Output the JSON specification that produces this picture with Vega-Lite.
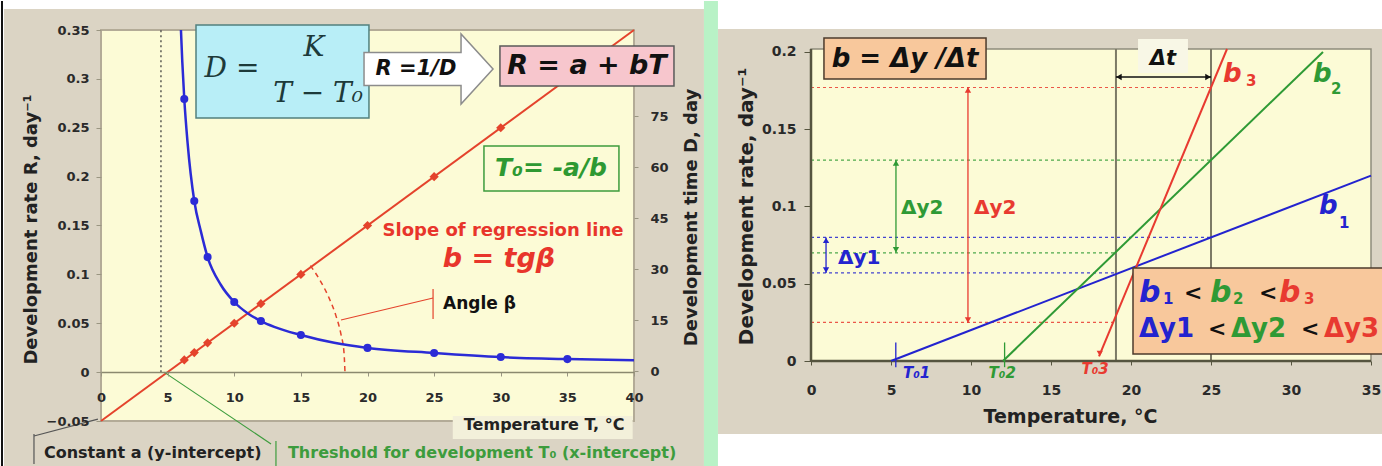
{
"$schema":"https://vega.github.io/schema/vega-lite/v6.json",
"background":"white","padding":0,"spacing":0,
"config":{"view":{"stroke":null},"font":"DejaVu Sans","axis":{"labelFont":"DejaVu Sans","labelFontWeight":"bold","labelColor":"#2a2a2a","titleFont":"DejaVu Sans","titleFontWeight":"bold","titleColor":"#222222","grid":false,"zindex":1}},
"datasets":{
"lFrame":[{"T":-7.28,"T2":45.25,"R":0.3715,"R2":-0.1012}],
"lEdge":[{"T":-7.505,"T2":-7.355,"R":0.3797,"R2":-0.1012}],
"stripe":[{"T":45.25,"T2":46.3,"R":0.3797,"R2":-0.1012}],
"lPlot":[{"T":0,"T2":40,"R":-0.05,"R2":0.35}],
"lTitleBox":[{"T":26.4,"T2":39.9,"R":-0.0449,"R2":-0.0684}],
"threshold":[{"T":4.5,"T2":4.5,"R":0,"R2":0.35}],
"regLine":[{"T":0,"R":-0.05},{"T":40,"R":0.35}],
"arc":[{"T":18.31,"R":0},{"T":18.24,"R":0.0195},{"T":18.01,"R":0.0386},{"T":17.64,"R":0.0573},{"T":17.13,"R":0.0754},{"T":16.49,"R":0.0927},{"T":15.71,"R":0.109}],
"redSegs":[{"T":18.01,"T2":24.92,"R":0.0533,"R2":0.0758},{"T":24.92,"T2":24.92,"R":0.085,"R2":0.0543}],
"rate":[{"T":6.25,"R":0.0125},{"T":7,"R":0.02},{"T":8,"R":0.03},{"T":10,"R":0.05},{"T":12,"R":0.07},{"T":15,"R":0.1},{"T":20,"R":0.15},{"T":25,"R":0.2},{"T":30,"R":0.25}],
"cyanBox":[{"T":7.13,"T2":20.11,"R":0.3551,"R2":0.26}],
"arrow":[{"T":24.58,"R":0.3101}],
"pinkBox":[{"T":29.94,"T2":43.0,"R":0.3336,"R2":0.2927}],
"greenBox":[{"T":28.74,"T2":38.87,"R":0.2313,"R2":0.1853}],
"formula":[{"T":9.83,"R":0.31,"label":"D ="},{"T":15.98,"R":0.3316,"label":"K"},{"T":16.29,"R":0.2845,"label":"T − T₀"}],
"lArrowText":[{"T":23.64,"R":0.31,"label":"R =1/D"}],
"lLinear":[{"T":36.47,"R":0.3132,"label":"R = a + bT"}],
"lT0":[{"T":33.77,"R":0.2088,"label":"T₀= -a/b"}],
"lSlope":[{"T":30.17,"R":0.1444,"label":"Slope of regression line"}],
"lTg":[{"T":29.87,"R":0.1157,"label":"b = tgβ"}],
"lAngle":[{"T":25.67,"R":0.0697,"label":"Angle β"}],
"blackSegs":[{"T":-0.23,"T2":-5.03,"R":-0.048,"R2":-0.0653},{"T":-5.03,"T2":-5.03,"R":-0.0633,"R2":-0.094}],
"greenSegs":[{"T":4.73,"T2":12.76,"R":0,"R2":-0.0735},{"T":13.13,"T2":13.13,"R":-0.0705,"R2":-0.0971}],
"lConst":[{"T":-4.28,"R":-0.0827,"label":"Constant a (y-intercept)"}],
"lThresh":[{"T":14.03,"R":-0.0827,"label":"Threshold for development T₀ (x-intercept)"}],
"timeCurve":[{"T":6.0,"D":100.3},{"T":6.1,"D":91},{"T":6.25,"D":80},{"T":6.5,"D":67},{"T":7,"D":50},{"T":7.5,"D":41},{"T":8,"D":33.5},{"T":9,"D":25.3},{"T":10,"D":20.3},{"T":11,"D":17},{"T":12,"D":14.7},{"T":13,"D":13},{"T":15,"D":10.6},{"T":17.5,"D":8.3},{"T":20,"D":6.8},{"T":25,"D":5.3},{"T":30,"D":4.1},{"T":35,"D":3.5},{"T":40,"D":3.2}],
"timePts":[{"T":6.25,"D":80},{"T":7,"D":50},{"T":8,"D":33.5},{"T":10,"D":20.3},{"T":12,"D":14.7},{"T":15,"D":10.6},{"T":20,"D":6.8},{"T":25,"D":5.3},{"T":30,"D":4.1},{"T":35,"D":3.5}],
"rFrame":[{"T":-5.8125,"T2":36.2,"R":0.2148,"R2":-0.0472}],
"rPlot":[{"T":0,"T2":35,"R":0,"R2":0.2019}],
"dashes":[{"s":"3","T":0,"T2":25,"R":0.177,"R2":0.177},{"s":"3","T":0,"T2":19,"R":0.025,"R2":0.025},{"s":"2","T":0,"T2":25,"R":0.13,"R2":0.13},{"s":"2","T":0,"T2":19,"R":0.07,"R2":0.07},{"s":"1","T":0,"T2":25,"R":0.08,"R2":0.08},{"s":"1","T":0,"T2":19,"R":0.057,"R2":0.057}],
"verticals":[{"T":19.06,"T2":19.06,"R":0,"R2":0.2019},{"T":25,"T2":25,"R":0,"R2":0.2019}],
"rAxes":[{"T":0,"T2":0,"R":0,"R2":0.2019},{"T":0,"T2":35,"R":0,"R2":0}],
"bLines":[{"s":"1","T":5,"T2":35,"R":0,"R2":0.12},{"s":"2","T":12,"T2":32,"R":0,"R2":0.2},{"s":"3","T":18,"T2":26,"R":0.003,"R2":0.2019}],
"dyArrows":[{"s":"2","T":5.31,"T2":5.31,"R":0.07,"R2":0.13},{"s":"3","T":9.81,"T2":9.81,"R":0.0246,"R2":0.1773},{"s":"1","T":0.94,"T2":0.94,"R":0.057,"R2":0.08},{"s":"1","T":5.3,"T2":5.3,"R":-0.004,"R2":0.012},{"s":"2","T":12.1,"T2":12.1,"R":-0.004,"R2":0.012}],
"upHeads":[{"s":"2","T":5.31,"R":0.13},{"s":"3","T":9.81,"R":0.1773},{"s":"1","T":0.94,"R":0.08}],
"downHeads":[{"s":"2","T":5.31,"R":0.07},{"s":"3","T":9.81,"R":0.0246},{"s":"1","T":0.94,"R":0.057},{"s":"3","T":18.05,"R":0.003}],
"dtLine":[{"T":19.06,"T2":25,"R":0.1838,"R2":0.1838}],
"dtLeft":[{"T":19.06,"R":0.1838}],
"dtRight":[{"T":25,"R":0.1838}],
"dtBox":[{"T":20.44,"T2":23.56,"R":0.2084,"R2":0.1864}],
"dtText":[{"T":22,"R":0.1954,"label":"Δt"}],
"slopeBox":[{"T":0.81,"T2":10.94,"R":0.209,"R2":0.1825},{"T":20.125,"T2":36.2,"R":0.0602,"R2":0.0045}],
"slopeText":[{"T":5.875,"R":0.1954,"label":"b = Δy /Δt"}],
"bBig":[{"s":"1","T":31.75,"R":0.1003,"label":"b"},{"s":"2","T":31.375,"R":0.1857,"label":"b"},{"s":"3","T":25.75,"R":0.1857,"label":"b"}],
"bBox":[{"s":"1","T":20.5,"R":0.044,"label":"b"},{"s":"2","T":24.94,"R":0.044,"label":"b"},{"s":"3","T":29.25,"R":0.044,"label":"b"}],
"bSubs":[{"s":"1","T":33.0,"R":0.0894,"label":"1"},{"s":"2","T":32.5,"R":0.176,"label":"2"},{"s":"3","T":27.19,"R":0.1812,"label":"3"},{"s":"1","T":22.0,"R":0.0401,"label":"1"},{"s":"2","T":26.375,"R":0.0401,"label":"2"},{"s":"3","T":30.81,"R":0.0401,"label":"3"}],
"lessThan":[{"s":"k","T":23.31,"R":0.044,"label":"<"},{"s":"k","T":28.0,"R":0.044,"label":"<"},{"s":"k","T":24.81,"R":0.0207,"label":"<"},{"s":"k","T":30.63,"R":0.0207,"label":"<"}],
"dyBox":[{"s":"1","T":20.5,"R":0.0207,"label":"Δy1"},{"s":"2","T":26.25,"R":0.0207,"label":"Δy2"},{"s":"3","T":32.06,"R":0.0207,"label":"Δy3"}],
"dyLabels":[{"s":"2","T":5.625,"R":0.099,"label":"Δy2"},{"s":"3","T":10.19,"R":0.099,"label":"Δy2"},{"s":"1","T":1.69,"R":0.0667,"label":"Δy1"}],
"t0Labels":[{"s":"1","T":5.75,"R":-0.0078,"label":"T₀1"},{"s":"2","T":11.1,"R":-0.0078,"label":"T₀2"},{"s":"3","T":16.9,"R":-0.0052,"label":"T₀3"}]
},
"hconcat":[
{
"width":533,"height":391,
"resolve":{"scale":{"y":"independent"}},
"layer":[
{
"encoding":{
"x":{"field":"T","type":"quantitative","scale":{"domain":[0,40],"nice":false,"zero":false},
"axis":{"values":[0,5,10,15,20,25,30,35,40],"offset":-49,"labelFlush":false,"labelOverlap":false,"domainColor":"#8b896f","domainWidth":1.5,"tickColor":"#9a9682","tickSize":4,"labelPadding":15,"labelFontSize":13,"title":"Temperature T, °C","titleFontSize":16,"titleX":523,"titleY":52,"titleAlign":"right","titleBaseline":"middle","zindex":1}},
"y":{"field":"R","type":"quantitative","scale":{"domain":[-0.05,0.35],"nice":false,"zero":false},
"axis":{"values":[-0.05,0,0.05,0.1,0.15,0.2,0.25,0.3,0.35],"format":".2~f","domain":false,"tickColor":"#9a9682","tickSize":5,"labelPadding":7,"labelFontSize":13,"labelOverlap":false,"labelFlush":false,"title":"Development rate R, day⁻¹","titleFontSize":18,"titleAngle":270,"titleX":-70,"titleY":199,"titleAlign":"center","titleBaseline":"middle","zindex":1}}
},
"layer":[
{"data":{"name":"lFrame"},"mark":{"type":"rect","fill":"#dbd4c4"},"encoding":{"x2":{"field":"T2"},"y2":{"field":"R2"}}},
{"data":{"name":"lEdge"},"mark":{"type":"rect","fill":"#111111"},"encoding":{"x2":{"field":"T2"},"y2":{"field":"R2"}}},
{"data":{"name":"stripe"},"mark":{"type":"rect","fill":"#b8f2c6"},"encoding":{"x2":{"field":"T2"},"y2":{"field":"R2"}}},
{"data":{"name":"lPlot"},"mark":{"type":"rect","fill":"#fcfbd6","stroke":"#b3ab97","strokeWidth":2},"encoding":{"x2":{"field":"T2"},"y2":{"field":"R2"}}},
{"data":{"name":"lTitleBox"},"mark":{"type":"rect","fill":"#f3f0da"},"encoding":{"x2":{"field":"T2"},"y2":{"field":"R2"}}},
{"data":{"name":"threshold"},"mark":{"type":"rule","color":"#333333","strokeWidth":1.2,"strokeDash":[2,3]},"encoding":{"x2":{"field":"T2"},"y2":{"field":"R2"}}},
{"data":{"name":"regLine"},"mark":{"type":"line","color":"#e4432c","strokeWidth":2},"encoding":{}},
{"data":{"name":"arc"},"mark":{"type":"line","color":"#e4432c","strokeWidth":1.5,"strokeDash":[5,4],"interpolate":"monotone"},"encoding":{}},
{"data":{"name":"redSegs"},"mark":{"type":"rule","color":"#e4432c","strokeWidth":1.2},"encoding":{"x2":{"field":"T2"},"y2":{"field":"R2"}}},
{"data":{"name":"rate"},"mark":{"type":"point","shape":"diamond","size":85,"filled":true,"opacity":1,"color":"#e4432c"},"encoding":{}},
{"data":{"name":"cyanBox"},"mark":{"type":"rect","fill":"#b8eef7","stroke":"#52807e","strokeWidth":1.5},"encoding":{"x2":{"field":"T2"},"y2":{"field":"R2"}}},
{"data":{"name":"arrow"},"mark":{"type":"point","shape":"M -1 -0.256 L 0.504 -0.256 L 0.504 -0.543 L 1 0 L 0.504 0.543 L 0.504 0.256 L -1 0.256 Z","size":16641,"filled":true,"fill":"#ffffff","stroke":"#8c8c8c","strokeWidth":1.5,"opacity":1},"encoding":{}},
{"data":{"name":"pinkBox"},"mark":{"type":"rect","fill":"#f7c6cd","stroke":"#5a5a5a","strokeWidth":1.5},"encoding":{"x2":{"field":"T2"},"y2":{"field":"R2"}}},
{"data":{"name":"greenBox"},"mark":{"type":"rect","fill":"#fcfbd6","stroke":"#3d9c3d","strokeWidth":1.5},"encoding":{"x2":{"field":"T2"},"y2":{"field":"R2"}}},
{"data":{"name":"formula"},"mark":{"type":"text","font":"DejaVu Serif","fontStyle":"italic","fontSize":28,"color":"#1d3a3a"},"encoding":{"text":{"field":"label"}}},
{"data":{"name":"lArrowText"},"mark":{"type":"text","fontWeight":"bold","fontStyle":"italic","fontSize":21,"color":"#111111"},"encoding":{"text":{"field":"label"}}},
{"data":{"name":"lLinear"},"mark":{"type":"text","fontWeight":"bold","fontStyle":"italic","fontSize":27,"color":"#111111"},"encoding":{"text":{"field":"label"}}},
{"data":{"name":"lT0"},"mark":{"type":"text","fontWeight":"bold","fontStyle":"italic","fontSize":25,"color":"#2e9932"},"encoding":{"text":{"field":"label"}}},
{"data":{"name":"lSlope"},"mark":{"type":"text","fontWeight":"bold","fontSize":18,"color":"#e8352b"},"encoding":{"text":{"field":"label"}}},
{"data":{"name":"lTg"},"mark":{"type":"text","fontWeight":"bold","fontStyle":"italic","fontSize":27,"color":"#e8352b"},"encoding":{"text":{"field":"label"}}},
{"data":{"name":"lAngle"},"mark":{"type":"text","fontWeight":"bold","fontSize":17,"color":"#111111","align":"left"},"encoding":{"text":{"field":"label"}}},
{"data":{"name":"blackSegs"},"mark":{"type":"rule","color":"#555555","strokeWidth":1.2},"encoding":{"x2":{"field":"T2"},"y2":{"field":"R2"}}},
{"data":{"name":"greenSegs"},"mark":{"type":"rule","color":"#3d9c3d","strokeWidth":1.2},"encoding":{"x2":{"field":"T2"},"y2":{"field":"R2"}}},
{"data":{"name":"lConst"},"mark":{"type":"text","fontWeight":"bold","fontSize":16,"color":"#222222","align":"left"},"encoding":{"text":{"field":"label"}}},
{"data":{"name":"lThresh"},"mark":{"type":"text","fontWeight":"bold","fontSize":16,"color":"#3d9c3d","align":"left"},"encoding":{"text":{"field":"label"}}}
]
},
{
"encoding":{
"x":{"field":"T","type":"quantitative","scale":{"domain":[0,40],"nice":false,"zero":false},
"axis":{"values":[0,5,10,15,20,25,30,35,40],"offset":-49,"labelFlush":false,"labelOverlap":false,"domainColor":"#8b896f","domainWidth":1.5,"tickColor":"#9a9682","tickSize":4,"labelPadding":15,"labelFontSize":13,"title":"Temperature T, °C","titleFontSize":16,"titleX":523,"titleY":52,"titleAlign":"right","titleBaseline":"middle","zindex":1}},
"y":{"field":"D","type":"quantitative","scale":{"domain":[-14.7,100.3],"nice":false,"zero":false},
"axis":{"orient":"right","values":[0,15,30,45,60,75],"domain":false,"tickColor":"#9a9682","tickSize":4,"labelPadding":12,"labelAlign":"left","labelFontSize":13,"labelFlush":false,"title":"Development time D, day","titleFontSize":18,"titleAngle":270,"titleX":57,"titleY":187,"titleAlign":"center","titleBaseline":"middle","zindex":1}}
},
"layer":[
{"data":{"name":"timeCurve"},"mark":{"type":"line","color":"#2b2bd6","strokeWidth":2.5,"interpolate":"monotone"},"encoding":{}},
{"data":{"name":"timePts"},"mark":{"type":"point","shape":"circle","size":65,"filled":true,"opacity":1,"color":"#2b2bd6"},"encoding":{}}
]
}
]
},
{
"width":560,"height":331,
"encoding":{
"x":{"field":"T","type":"quantitative","scale":{"domain":[0,35],"nice":false,"zero":false},
"axis":{"values":[0,5,10,15,20,25,30,35],"labelFlush":false,"labelOverlap":false,"domain":false,"tickColor":"#55543f","tickSize":4,"labelPadding":18,"labelFontSize":14,"title":"Temperature, °C","titleFontSize":19,"titleX":259,"titleY":55,"titleAlign":"center","titleBaseline":"middle","zindex":1}},
"y":{"field":"R","type":"quantitative","scale":{"domain":[0,0.2142],"nice":false,"zero":false},
"axis":{"values":[0,0.05,0.1,0.15,0.2],"format":".2~f","labelFlush":false,"labelOverlap":false,"domain":false,"tickColor":"#55543f","tickSize":7,"labelPadding":8,"labelFontSize":14,"title":"Development rate, day⁻¹","titleFontSize":20,"titleAngle":270,"titleX":-65,"titleY":176,"titleAlign":"center","titleBaseline":"middle","zindex":1}}
},
"layer":[
{"data":{"name":"rFrame"},"mark":{"type":"rect","fill":"#dbd4c4"},"encoding":{"x2":{"field":"T2"},"y2":{"field":"R2"}}},
{"data":{"name":"rPlot"},"mark":{"type":"rect","fill":"#fcfbd6","stroke":"#8f8c7c","strokeWidth":1.5},"encoding":{"x2":{"field":"T2"},"y2":{"field":"R2"}}},
{"data":{"name":"dashes"},"mark":{"type":"rule","strokeWidth":1.2,"strokeDash":[3,3],"opacity":0.85},"encoding":{"x2":{"field":"T2"},"y2":{"field":"R2"},"color":{"field":"s","type":"nominal","scale":{"domain":["1","2","3","k"],"range":["#2323cf","#2f9a35","#e83a30","#111111"]},"legend":null}}},
{"data":{"name":"verticals"},"mark":{"type":"rule","color":"#7c7a66","strokeWidth":2},"encoding":{"x2":{"field":"T2"},"y2":{"field":"R2"}}},
{"data":{"name":"rAxes"},"mark":{"type":"rule","color":"#55543f","strokeWidth":2.5},"encoding":{"x2":{"field":"T2"},"y2":{"field":"R2"}}},
{"data":{"name":"bLines"},"mark":{"type":"rule","strokeWidth":2},"encoding":{"x2":{"field":"T2"},"y2":{"field":"R2"},"color":{"field":"s","type":"nominal","scale":{"domain":["1","2","3","k"],"range":["#2323cf","#2f9a35","#e83a30","#111111"]},"legend":null}}},
{"data":{"name":"dyArrows"},"mark":{"type":"rule","strokeWidth":1.3},"encoding":{"x2":{"field":"T2"},"y2":{"field":"R2"},"color":{"field":"s","type":"nominal","scale":{"domain":["1","2","3","k"],"range":["#2323cf","#2f9a35","#e83a30","#111111"]},"legend":null}}},
{"data":{"name":"upHeads"},"mark":{"type":"point","shape":"triangle-up","size":40,"filled":true,"opacity":1,"yOffset":3},"encoding":{"color":{"field":"s","type":"nominal","scale":{"domain":["1","2","3","k"],"range":["#2323cf","#2f9a35","#e83a30","#111111"]},"legend":null}}},
{"data":{"name":"downHeads"},"mark":{"type":"point","shape":"triangle-down","size":40,"filled":true,"opacity":1,"yOffset":-3},"encoding":{"color":{"field":"s","type":"nominal","scale":{"domain":["1","2","3","k"],"range":["#2323cf","#2f9a35","#e83a30","#111111"]},"legend":null}}},
{"data":{"name":"dtBox"},"mark":{"type":"rect","fill":"#f8f7e6"},"encoding":{"x2":{"field":"T2"},"y2":{"field":"R2"}}},
{"data":{"name":"dtLine"},"mark":{"type":"rule","color":"#111111","strokeWidth":1.5},"encoding":{"x2":{"field":"T2"},"y2":{"field":"R2"}}},
{"data":{"name":"dtLeft"},"mark":{"type":"point","shape":"triangle-left","size":40,"filled":true,"opacity":1,"color":"#111111","xOffset":3},"encoding":{}},
{"data":{"name":"dtRight"},"mark":{"type":"point","shape":"triangle-right","size":40,"filled":true,"opacity":1,"color":"#111111","xOffset":-3},"encoding":{}},
{"data":{"name":"dtText"},"mark":{"type":"text","fontWeight":"bold","fontStyle":"italic","fontSize":21,"color":"#111111"},"encoding":{"text":{"field":"label"}}},
{"data":{"name":"slopeBox"},"mark":{"type":"rect","fill":"#f8c89c","stroke":"#4c3b2c","strokeWidth":1.5},"encoding":{"x2":{"field":"T2"},"y2":{"field":"R2"}}},
{"data":{"name":"slopeText"},"mark":{"type":"text","fontWeight":"bold","fontStyle":"italic","fontSize":26,"color":"#111111"},"encoding":{"text":{"field":"label"}}},
{"data":{"name":"bBig"},"mark":{"type":"text","fontWeight":"bold","fontStyle":"italic","fontSize":26,"align":"left"},"encoding":{"text":{"field":"label"},"color":{"field":"s","type":"nominal","scale":{"domain":["1","2","3","k"],"range":["#2323cf","#2f9a35","#e83a30","#111111"]},"legend":null}}},
{"data":{"name":"bBox"},"mark":{"type":"text","fontWeight":"bold","fontStyle":"italic","fontSize":30,"align":"left"},"encoding":{"text":{"field":"label"},"color":{"field":"s","type":"nominal","scale":{"domain":["1","2","3","k"],"range":["#2323cf","#2f9a35","#e83a30","#111111"]},"legend":null}}},
{"data":{"name":"bSubs"},"mark":{"type":"text","fontWeight":"bold","fontSize":15,"align":"left"},"encoding":{"text":{"field":"label"},"color":{"field":"s","type":"nominal","scale":{"domain":["1","2","3","k"],"range":["#2323cf","#2f9a35","#e83a30","#111111"]},"legend":null}}},
{"data":{"name":"lessThan"},"mark":{"type":"text","fontWeight":"bold","fontSize":22,"align":"left"},"encoding":{"text":{"field":"label"},"color":{"field":"s","type":"nominal","scale":{"domain":["1","2","3","k"],"range":["#2323cf","#2f9a35","#e83a30","#111111"]},"legend":null}}},
{"data":{"name":"dyBox"},"mark":{"type":"text","fontWeight":"bold","fontSize":26,"align":"left"},"encoding":{"text":{"field":"label"},"color":{"field":"s","type":"nominal","scale":{"domain":["1","2","3","k"],"range":["#2323cf","#2f9a35","#e83a30","#111111"]},"legend":null}}},
{"data":{"name":"dyLabels"},"mark":{"type":"text","fontWeight":"bold","fontSize":20,"align":"left"},"encoding":{"text":{"field":"label"},"color":{"field":"s","type":"nominal","scale":{"domain":["1","2","3","k"],"range":["#2323cf","#2f9a35","#e83a30","#111111"]},"legend":null}}},
{"data":{"name":"t0Labels"},"mark":{"type":"text","fontWeight":"bold","fontStyle":"italic","fontSize":15,"align":"left"},"encoding":{"text":{"field":"label"},"color":{"field":"s","type":"nominal","scale":{"domain":["1","2","3","k"],"range":["#2323cf","#2f9a35","#e83a30","#111111"]},"legend":null}}}
]
}
]
}
